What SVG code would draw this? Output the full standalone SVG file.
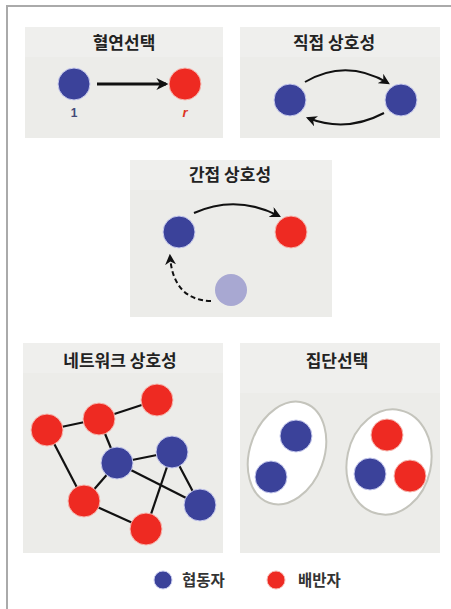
<svg xmlns="http://www.w3.org/2000/svg" width="451" height="609" viewBox="0 0 451 609">
<style>
.panel{fill:#ecece9}
.band{fill:#efefed}
.title{font-family:"Noto Sans CJK KR","Noto Sans",sans-serif;font-weight:bold;font-size:17px;fill:#222;text-anchor:middle}
.legend{font-family:"Noto Sans CJK KR","Noto Sans",sans-serif;font-weight:bold;font-size:15.5px;fill:#333}
.coop{fill:#3b429a;stroke:#c8cbee;stroke-width:1}
.def{fill:#ee2a22;stroke:#f6b8b0;stroke-width:1}
.ghost{fill:#a8a8d2}
.edge{stroke:#111;stroke-width:2.2;fill:none}
.arc{stroke:#111;stroke-width:2;fill:none}
.grp{fill:#fff;stroke:#c4c4bc;stroke-width:2}
</style>
<defs>
<marker id="ah" viewBox="0 0 10 10" refX="8" refY="5" markerWidth="5.5" markerHeight="5.5" orient="auto">
<path d="M0,0 L10,5 L0,10 L3,5 Z" fill="#111"/>
</marker>
<marker id="ah2" viewBox="0 0 10 10" refX="8" refY="5" markerWidth="4" markerHeight="4" orient="auto">
<path d="M0,0 L10,5 L0,10 L3,5 Z" fill="#111"/>
</marker>
</defs>
<rect x="0" y="0" width="451" height="609" fill="#fff"/>
<path d="M7,615 L7,6 L455,6" fill="none" stroke="#aaa" stroke-width="2"/>

<g id="panel-kin">
<rect class="panel" x="25" y="27" width="198" height="111"/>
<rect class="band" x="25" y="27" width="198" height="30"/>
<text class="title" x="124" y="49">혈연선택</text>
</g>
<g id="panel-direct">
<rect class="panel" x="240" y="27" width="200" height="111"/>
<rect class="band" x="240" y="27" width="200" height="30"/>
<text class="title" x="334" y="49">직접 상호성</text>
</g>
<g id="panel-indirect">
<rect class="panel" x="130" y="160" width="202" height="157"/>
<rect class="band" x="130" y="160" width="202" height="30"/>
<text class="title" x="230" y="181">간접 상호성</text>
</g>
<g id="panel-network">
<rect class="panel" x="23" y="343" width="200" height="210"/>
<rect class="band" x="23" y="343" width="200" height="30"/>
<text class="title" x="120" y="367">네트워크 상호성</text>
</g>
<g id="panel-group">
<rect class="panel" x="240" y="343" width="200" height="210"/>
<rect class="band" x="240" y="343" width="200" height="50"/>
<text class="title" x="337" y="367">집단선택</text>
</g>

<g id="connectors">
<line x1="97" y1="84" x2="166" y2="84" stroke="#111" stroke-width="3" marker-end="url(#ah2)"/>
<path class="arc" d="M305,82 Q346,58 388,83" marker-end="url(#ah)"/>
<path class="arc" d="M384,113 Q346,133 308,118" marker-end="url(#ah)"/>
<path class="arc" d="M194,213 Q236,194 279,216" marker-end="url(#ah)"/>
<path class="arc" d="M211,301 Q173,300 170,256" stroke-dasharray="5,3" marker-end="url(#ah)"/>
<line class="edge" x1="47" y1="430" x2="99" y2="419"/>
<line class="edge" x1="99" y1="419" x2="157" y2="400"/>
<line class="edge" x1="99" y1="419" x2="117" y2="463"/>
<line class="edge" x1="47" y1="430" x2="84" y2="501"/>
<line class="edge" x1="117" y1="463" x2="172" y2="452"/>
<line class="edge" x1="117" y1="463" x2="84" y2="501"/>
<line class="edge" x1="117" y1="463" x2="200" y2="505"/>
<line class="edge" x1="172" y1="452" x2="200" y2="505"/>
<line class="edge" x1="172" y1="452" x2="146" y2="529"/>
<line class="edge" x1="84" y1="501" x2="146" y2="529"/>
</g>

<g id="kin-nodes">
<circle class="coop" cx="74" cy="84" r="16"/>
<circle class="def" cx="185" cy="84" r="16"/>
<text x="74" y="117" font-family="Liberation Sans,Arial,sans-serif" font-size="12" font-weight="bold" fill="#444a78" text-anchor="middle">1</text>
<text x="185" y="117" font-family="Liberation Sans,Arial,sans-serif" font-size="13" font-weight="bold" font-style="italic" fill="#dd3322" text-anchor="middle">r</text>
</g>
<g id="direct-nodes">
<circle class="coop" cx="290" cy="100" r="16"/>
<circle class="coop" cx="401" cy="100" r="16"/>
</g>
<g id="indirect-nodes">
<circle class="coop" cx="179" cy="232" r="16"/>
<circle class="def" cx="291" cy="232" r="16"/>
<circle class="ghost" cx="231" cy="290" r="16"/>
</g>
<g id="network-nodes">
<circle class="def" cx="47" cy="430" r="16"/>
<circle class="def" cx="99" cy="419" r="16"/>
<circle class="def" cx="157" cy="400" r="16"/>
<circle class="coop" cx="117" cy="463" r="16"/>
<circle class="coop" cx="172" cy="452" r="16"/>
<circle class="def" cx="84" cy="501" r="16"/>
<circle class="coop" cx="200" cy="505" r="16"/>
<circle class="def" cx="146" cy="529" r="16"/>
</g>
<g id="group-left">
<ellipse class="grp" cx="287" cy="453" rx="37" ry="53" transform="rotate(20 287 453)"/>
<circle class="coop" cx="296" cy="436" r="16"/>
<circle class="coop" cx="271" cy="477" r="16"/>
</g>
<g id="group-right">
<ellipse class="grp" cx="389" cy="462" rx="42" ry="53" transform="rotate(12 389 462)"/>
<circle class="def" cx="387" cy="435" r="16"/>
<circle class="coop" cx="370" cy="474" r="16"/>
<circle class="def" cx="410" cy="476" r="16"/>
</g>
<g id="legend">
<circle class="coop" cx="163" cy="580" r="9"/>
<text class="legend" x="182" y="586">협동자</text>
<circle class="def" cx="276" cy="580" r="9"/>
<text class="legend" x="298" y="586">배반자</text>
</g>
</svg>
